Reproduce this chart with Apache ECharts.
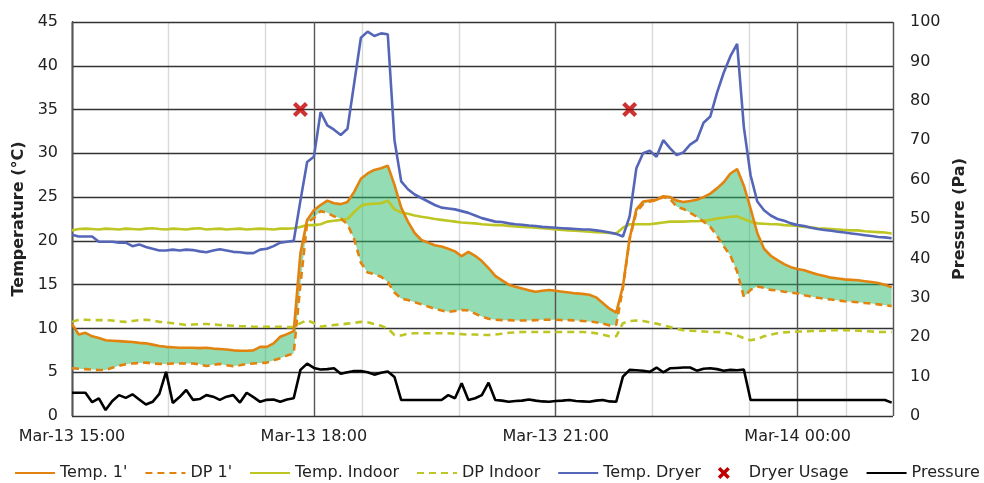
<!DOCTYPE html>
<html><head><meta charset="utf-8">
<script src="https://cdn.jsdelivr.net/npm/echarts@6/dist/echarts.min.js"></script>
<style>html,body{margin:0;padding:0;background:#fff}#c{width:984px;height:483px}</style>
</head><body><div id="c"></div>
<script>
// minutes after Mar-13 15:00
const times = [0,5,10,15,20,25,30,35,40,45,50,55,60,65,70,75,80,85,90,95,100,105,110,115,120,125,130,135,140,145,150,155,160,165,170,175,180,185,190,195,200,205,210,215,220,225,230,235,240,245,250,255,260,265,270,275,280,285,290,295,300,305,310,315,320,325,330,335,340,345,350,355,360,365,370,375,380,385,390,395,400,405,410,415,420,425,430,435,440,445,450,455,460,465,470,475,480,485,490,495,500,505,510,515,520,525,530,535,540,545,550,555,560,565,570,575,580,585,590,595,600,605,610];
const tickMinutes = [0,180,360,540];
const tickLabels = ['Mar-13 15:00','Mar-13 18:00','Mar-13 21:00','Mar-14 00:00'];

const temp1 = [10.5,9.3,9.5,9.1,8.9,8.65,8.6,8.55,8.5,8.45,8.35,8.3,8.15,8.0,7.9,7.85,7.8,7.8,7.8,7.75,7.8,7.7,7.65,7.6,7.5,7.45,7.45,7.5,7.9,7.9,8.3,9.05,9.35,9.7,
18.6,22.4,23.5,24.1,24.6,24.3,24.2,24.45,25.6,27.1,27.7,28.1,28.3,28.6,26.4,23.8,22.2,20.9,20.1,19.8,19.5,19.35,19.1,18.8,18.25,18.75,18.3,17.7,16.9,16.0,15.5,15.0,14.75,14.55,14.35,14.2,14.3,14.4,14.3,14.2,14.1,14.0,13.95,13.85,13.55,12.9,12.25,11.8,
14.8,20.3,23.6,24.5,24.6,24.7,25.1,25.0,24.6,24.45,24.55,24.7,25.0,25.4,26.0,26.7,27.7,28.2,26.3,23.7,20.9,19.1,18.3,17.8,17.35,17.0,16.8,16.65,16.4,16.15,16.0,15.8,15.7,15.6,15.55,15.5,15.4,15.3,15.2,15.0,14.7];

const dp1 = [5.45,5.4,5.35,5.3,5.25,5.25,5.5,5.75,5.9,6.0,6.05,6.1,6.0,5.95,5.95,6.0,6.0,6.0,6.0,5.9,5.7,5.85,5.95,5.8,5.7,5.8,5.95,6.0,6.05,6.1,6.35,6.6,6.9,7.15,
15.0,22.1,22.6,23.4,23.2,22.8,22.55,21.9,20.2,17.5,16.4,16.2,15.9,15.3,14.1,13.4,13.25,13.0,12.75,12.5,12.25,12.05,11.9,12.0,12.1,12.05,11.7,11.35,11.1,11.0,10.95,10.95,10.9,10.9,10.9,10.95,11.0,11.0,11.0,10.95,10.95,10.9,10.85,10.8,10.7,10.55,10.35,10.4,
14.6,20.2,23.3,24.2,24.5,24.65,25.0,24.8,23.9,23.65,23.2,22.75,22.2,21.6,20.6,19.4,18.3,16.5,13.6,14.4,14.8,14.65,14.4,14.35,14.2,14.1,14.0,13.8,13.65,13.5,13.4,13.3,13.2,13.1,13.05,13.0,12.9,12.85,12.75,12.65,12.55];

const tempIndoor = [21.2,21.35,21.4,21.35,21.3,21.4,21.35,21.3,21.4,21.35,21.3,21.4,21.45,21.35,21.3,21.4,21.35,21.3,21.4,21.45,21.3,21.35,21.4,21.3,21.35,21.4,21.3,21.35,21.4,21.35,21.3,21.4,21.4,21.45,
21.6,21.8,21.8,21.9,22.2,22.3,22.4,22.5,23.3,24.0,24.2,24.25,24.3,24.6,23.6,23.25,23.1,22.9,22.75,22.65,22.5,22.4,22.3,22.2,22.1,22.05,22.0,21.9,21.85,21.8,21.8,21.7,21.65,21.6,21.55,21.5,21.45,21.4,21.3,21.25,21.2,21.15,21.1,21.05,21.0,20.95,20.9,20.85,
21.5,21.9,21.9,21.9,21.9,22.0,22.1,22.2,22.2,22.2,22.25,22.25,22.3,22.4,22.55,22.65,22.75,22.8,22.5,22.2,22.0,21.95,21.9,21.9,21.8,21.75,21.7,21.6,21.55,21.45,21.4,21.35,21.3,21.25,21.2,21.2,21.1,21.05,21.0,20.95,20.85];

const dpIndoor = [10.75,11.0,11.0,10.95,10.95,10.95,10.9,10.8,10.75,10.85,10.95,11.0,10.9,10.75,10.7,10.6,10.5,10.4,10.45,10.5,10.5,10.45,10.4,10.35,10.3,10.25,10.25,10.2,10.2,10.2,10.2,10.2,10.15,10.15,
10.6,10.95,10.6,10.2,10.3,10.4,10.45,10.55,10.65,10.75,10.7,10.5,10.3,10.0,9.25,9.2,9.4,9.45,9.45,9.45,9.45,9.45,9.45,9.4,9.35,9.3,9.3,9.25,9.25,9.3,9.4,9.5,9.55,9.6,9.6,9.6,9.6,9.6,9.6,9.6,9.6,9.6,9.6,9.55,9.45,9.3,9.1,9.1,
10.6,10.85,10.9,10.85,10.7,10.55,10.35,10.15,9.95,9.8,9.75,9.7,9.65,9.6,9.6,9.55,9.4,9.2,8.9,8.65,8.8,9.1,9.3,9.45,9.55,9.6,9.65,9.65,9.7,9.7,9.75,9.8,9.8,9.8,9.8,9.75,9.7,9.65,9.6,9.6,9.6];

const tempDryer = [20.7,20.5,20.5,20.5,19.9,19.9,19.9,19.8,19.8,19.4,19.6,19.3,19.1,18.9,18.9,19.0,18.9,19.0,18.95,18.8,18.7,18.9,19.05,18.9,18.75,18.7,18.6,18.6,19.0,19.1,19.4,19.8,19.9,20.0,
24.6,29.0,29.6,34.7,33.2,32.7,32.1,32.8,38.0,43.2,43.9,43.4,43.7,43.6,31.5,26.8,25.9,25.3,24.9,24.5,24.1,23.8,23.7,23.6,23.4,23.2,22.9,22.6,22.4,22.2,22.15,22.0,21.9,21.85,21.75,21.7,21.6,21.55,21.5,21.45,21.4,21.35,21.3,21.3,21.2,21.1,20.95,20.8,
20.5,22.8,28.3,30.0,30.3,29.6,31.5,30.6,29.8,30.1,31.0,31.5,33.5,34.2,36.9,39.2,41.1,42.5,33.0,27.5,24.5,23.5,22.9,22.5,22.3,22.0,21.8,21.7,21.5,21.35,21.25,21.15,21.05,20.95,20.85,20.75,20.65,20.55,20.45,20.4,20.3];

const pressure = [5.9,5.9,5.9,3.5,4.5,1.5,3.8,5.3,4.6,5.5,4.2,2.9,3.6,5.6,11.2,3.3,4.8,6.6,4.1,4.3,5.3,4.9,4.1,4.9,5.3,3.4,5.9,4.8,3.6,4.1,4.2,3.6,4.2,4.5,
11.7,13.3,12.2,11.8,11.9,12.1,10.7,11.1,11.4,11.4,11.1,10.5,11.0,11.3,9.9,4.05,4.05,4.05,4.05,4.05,4.05,4.05,5.3,4.5,8.3,4.05,4.5,5.3,8.45,4.05,3.9,3.6,3.8,3.9,4.2,3.9,3.7,3.6,3.8,3.9,4.05,3.8,3.7,3.6,3.9,4.05,3.7,3.6,
10.0,11.7,11.6,11.5,11.2,12.3,11.1,12.1,12.2,12.3,12.3,11.5,12.0,12.1,11.9,11.5,11.7,11.6,11.8,4.05,4.05,4.05,4.05,4.05,4.05,4.05,4.05,4.05,4.05,4.05,4.05,4.05,4.05,4.05,4.05,4.05,4.05,4.05,4.05,4.05,3.4];

const dryerTimes = [170,415];
const dryerMark = [35,35];

const FONT = 'DejaVu Sans';
const pair = a => a.map((v,i)=>[times[i], v]);

const chart = echarts.init(document.getElementById('c'), null, {renderer:'canvas'});
const lineS = (name, data, color, dashed, yIdx) => ({
  name, type:'line', data: pair(data), yAxisIndex: yIdx||0, symbol:'none', silent:true,
  lineStyle:{color, width:2.6, type: dashed ? [7,5] : 'solid'}, itemStyle:{color}
});

const xPath = 'path://M2,0 L5,3 L8,0 L10,2 L7,5 L10,8 L8,10 L5,7 L2,10 L0,8 L3,5 L0,2 Z';
const noSym = n => ({name:n, itemStyle:{opacity:0}});

chart.setOption({
  animation:false,
  textStyle:{fontFamily:FONT},
  grid:{left:72, right:91, top:22, bottom:67, containLabel:false},
  legend:{
    data:[noSym("Temp. 1'"),noSym("DP 1'"),noSym('Temp. Indoor'),noSym('DP Indoor'),noSym('Temp. Dryer'),
      {name:'Dryer Usage', itemStyle:{opacity:1}},noSym('Pressure')],
    left:12, right:0, top:460, itemWidth:40, itemHeight:12, itemGap:17, padding:[5,2],
    textStyle:{fontFamily:FONT, fontSize:16, color:'#222'}
  },
  xAxis:[{
    type:'value', min:0, max:611, interval:180, z:3,
    axisLine:{show:false}, axisTick:{show:false},
    axisLabel:{fontFamily:FONT, fontSize:16, color:'#222', margin:13, showMaxLabel:false,
      formatter: v => { const i = tickMinutes.indexOf(v); return i>=0 ? tickLabels[i] : ''; }},
    splitLine:{show:true, lineStyle:{color:'#555', width:1.4}}
  },{
    type:'value', min:0, max:611, interval:72, z:1, position:'bottom',
    axisLine:{show:false}, axisTick:{show:false}, axisLabel:{show:false},
    splitLine:{show:true, lineStyle:{color:'#d9d9d9', width:1.4}}
  }],
  yAxis:[{
    type:'value', min:0, max:45, interval:5, z:2,
    name:'Temperature (°C)', nameLocation:'middle', nameGap:44,
    nameTextStyle:{fontFamily:FONT, fontSize:16, fontWeight:'bold', color:'#222'},
    axisLine:{show:true, lineStyle:{color:'#333', width:1.4}}, axisTick:{show:false},
    axisLabel:{fontFamily:FONT, fontSize:16, color:'#222', margin:14},
    splitLine:{show:true, lineStyle:{color:'#333', width:1.3}}
  },{
    type:'value', min:0, max:100, interval:10, z:2,
    name:'Pressure (Pa)', nameLocation:'middle', nameGap:50, nameRotate:90,
    nameTextStyle:{fontFamily:FONT, fontSize:16, fontWeight:'bold', color:'#222'},
    axisLine:{show:true, lineStyle:{color:'#333', width:1.4}}, axisTick:{show:false},
    axisLabel:{fontFamily:FONT, fontSize:16, color:'#222', margin:17},
    splitLine:{show:false}
  }],
  series:[
    lineS('Temp. Indoor', tempIndoor, '#BDC622', false),
    lineS('DP Indoor', dpIndoor, '#BDC622', true),
    lineS('Temp. Dryer', tempDryer, '#5566B8', false),
    lineS('Pressure', pressure, '#000000', false, 1),
    {name:'fill', type:'custom', silent:true,
      data: times.map((t,i)=>[t, temp1[i], dp1[i]]),
      encode:{x:0, y:[1,2]},
      renderItem:(params, api) => {
        if (params.dataIndex !== 0) return null;
        const pts = [];
        for (let i=0;i<times.length;i++) pts.push(api.coord([times[i], temp1[i]]));
        for (let i=times.length-1;i>=0;i--) pts.push(api.coord([times[i], dp1[i]]));
        return {type:'polygon', shape:{points:pts}, style:{fill:'rgba(40,185,105,0.5)', stroke:null}};
      }},
    lineS("Temp. 1'", temp1, '#E3830F', false),
    lineS("DP 1'", dp1, '#E3830F', true),
    {name:'Dryer Usage', type:'scatter', data: dryerTimes.map((t,i)=>[t, dryerMark[i]]),
      symbol:xPath, symbolSize:15, silent:true, itemStyle:{color:'#C00000'}, z:5}
  ]
});
</script></body></html>
